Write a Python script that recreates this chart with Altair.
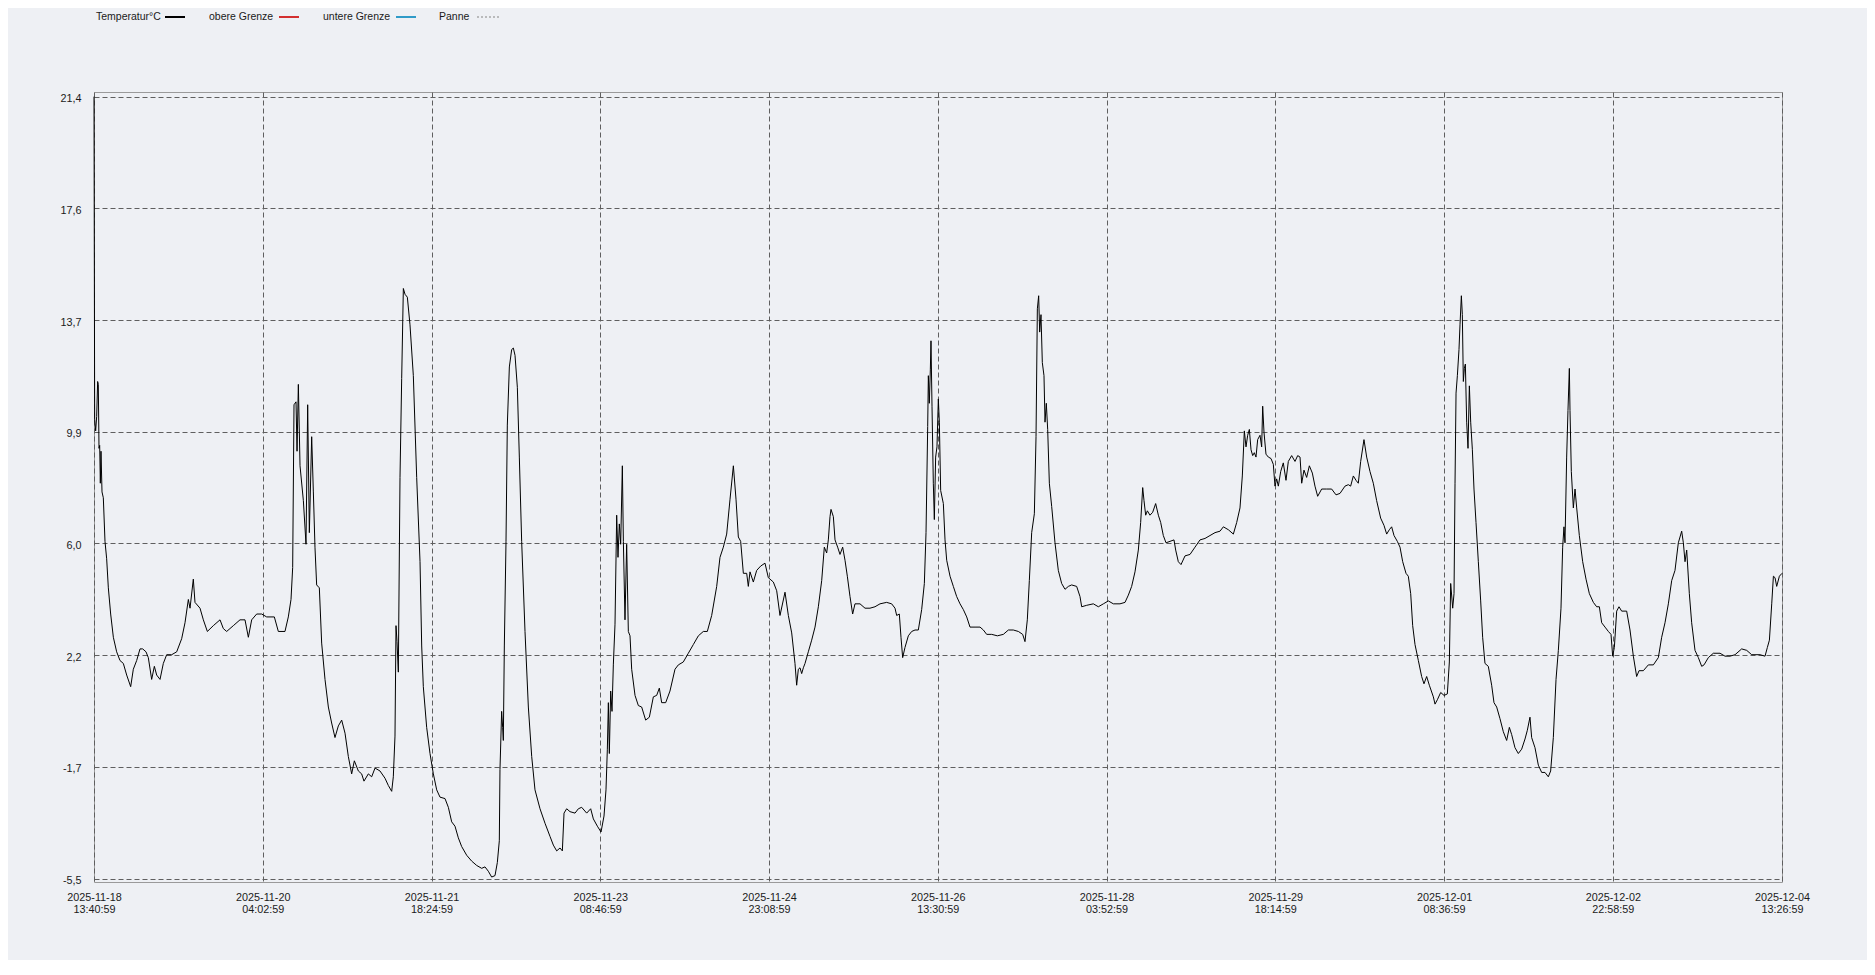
import altair as alt
import pandas as pd

# ---------------- data ----------------
start_time = "2025-11-18 13:40:59"
end_time = "2025-12-04 13:26:59"

hours_since_start = [
    0.00, 0.15, 0.38, 0.61, 0.83, 0.98, 1.14, 1.29, 1.44, 1.59, 1.82, 2.12, 2.50, 2.88, 3.26, 3.79,
    4.40, 5.15, 5.91, 6.67, 7.43, 8.34, 8.94, 9.70, 10.46, 11.07, 11.82, 12.35, 13.11, 13.72, 14.25,
    15.01, 15.76, 16.52, 17.66, 18.80, 19.93, 20.69, 21.45, 21.83, 22.58, 22.96, 24.10, 24.86, 25.77,
    27.13, 28.65, 29.40, 30.16, 31.68, 33.19, 34.33, 35.09, 35.85, 36.98, 38.12, 39.26, 41.00, 41.91,
    43.42, 44.18, 44.79, 45.17, 45.47, 45.93, 46.16, 46.46, 46.84, 47.60, 48.20, 48.58, 48.96, 49.49,
    49.87, 50.24, 50.62, 51.23, 51.76, 52.52, 53.28, 54.03, 54.79, 55.55, 56.31, 57.07, 57.82, 58.58,
    59.19, 60.10, 60.85, 61.38, 62.37, 63.13, 63.89, 65.02, 66.16, 66.92, 67.68, 68.05, 68.43, 68.66,
    68.89, 69.19, 69.57, 69.95, 70.33, 70.71, 71.24, 71.84, 72.60, 73.36, 74.12, 74.50, 74.87, 75.63,
    76.39, 77.15, 77.91, 78.66, 79.80, 80.56, 81.32, 82.07, 82.83, 83.59, 84.73, 85.86, 87.00, 88.14,
    88.89, 89.65, 90.41, 91.17, 91.70, 92.15, 92.30, 92.68, 92.91, 93.06, 93.29, 93.67, 93.97, 94.43,
    94.96, 95.34, 95.72, 96.25, 96.70, 97.23, 97.99, 98.75, 99.51, 100.26, 101.40, 102.54, 103.67,
    104.43, 105.19, 105.95, 106.48, 106.86, 107.46, 108.22, 109.36, 110.12, 110.87, 112.01, 112.92,
    113.53, 114.44, 115.27, 115.95, 116.40, 116.71, 116.94, 117.16, 117.47, 117.77, 118.07, 118.45,
    118.83, 119.13, 119.43, 119.74, 120.12, 120.35, 120.72, 121.10, 121.48, 121.86, 122.24, 123.00,
    123.76, 124.51, 125.42, 126.26, 127.17, 127.92, 128.53, 129.06, 129.97, 130.95, 132.09, 132.85,
    133.98, 135.12, 136.26, 137.40, 138.53, 139.44, 140.43, 141.57, 142.32, 143.08, 143.84, 144.60,
    145.36, 145.96, 146.49, 147.02, 147.63, 148.39, 148.76, 149.14, 149.90, 150.66, 151.57, 152.55,
    153.31, 154.45, 155.21, 155.96, 157.10, 157.86, 158.62, 159.37, 159.75, 160.13, 160.51, 160.89,
    161.27, 161.65, 162.40, 163.16, 163.92, 164.68, 165.44, 166.04, 166.57, 166.95, 167.33, 167.56,
    168.09, 168.47, 169.07, 169.60, 170.21, 170.74, 171.27, 171.88, 172.48, 173.01, 174.15, 175.29,
    176.42, 177.56, 178.70, 180.21, 181.35, 182.11, 182.49, 183.09, 183.47, 183.85, 184.38, 185.14,
    185.90, 186.66, 187.41, 188.17, 188.78, 189.16, 189.54, 189.69, 189.91, 190.14, 190.29, 190.52,
    190.82, 191.05, 191.35, 191.65, 191.96, 192.19, 192.49, 193.10, 193.48, 193.86, 194.62, 195.37,
    196.13, 196.89, 197.65, 198.41, 199.16, 200.30, 201.44, 202.20, 202.95, 204.09, 205.38, 206.74,
    207.88, 209.01, 210.15, 211.13, 211.66, 212.19, 212.65, 213.18, 213.79, 214.17, 214.47, 214.77,
    215.00, 215.30, 215.60, 215.98, 216.21, 216.51, 216.82, 217.20, 217.73, 218.48, 219.24, 220.00,
    220.76, 221.52, 222.27, 223.41, 224.17, 224.55, 225.69, 227.20, 228.34, 229.48, 230.61, 231.75,
    233.26, 234.40, 235.16, 235.91, 236.67, 237.43, 237.96, 238.42, 238.72, 239.10, 239.48, 240.08,
    240.69, 241.37, 241.98, 242.51, 243.11, 243.72, 244.63, 245.54, 245.92, 246.52, 247.13, 248.04,
    249.18, 250.31, 251.45, 252.59, 253.72, 254.86, 256.00, 256.76, 257.89, 259.03, 259.79, 260.54,
    261.07, 261.53, 261.91, 262.29, 262.67, 263.05, 263.43, 263.80, 264.18, 264.56, 265.09, 265.47,
    265.70, 266.00, 266.45, 266.98, 267.59, 268.12, 268.50, 268.88, 269.26, 269.79, 270.39, 271.00,
    271.53, 272.29, 273.05, 273.66, 274.19, 274.57, 275.09, 275.70, 276.31, 276.99, 277.59, 278.20,
    279.11, 280.25, 281.38, 282.37, 283.28, 284.41, 285.17, 285.70, 286.31, 286.92, 287.44, 287.98,
    288.73, 289.34, 290.10, 290.85, 291.61, 292.52, 293.28, 293.89, 294.49, 295.02, 295.56, 296.31,
    296.92, 297.53, 298.28, 298.81, 299.35, 299.80, 300.33, 301.09, 301.84, 302.37, 302.98, 303.59,
    304.50, 304.88, 305.41, 306.17, 306.93, 307.68, 308.14, 308.44, 308.90, 309.20, 309.43, 309.66,
    309.96, 310.33, 310.56, 310.87, 311.09, 311.32, 311.55, 311.78, 312.08, 312.38, 312.69, 312.99,
    313.37, 313.74, 314.20, 314.73, 315.26, 315.71, 316.24, 317.00, 317.76, 318.29, 318.90, 319.65,
    320.41, 321.17, 321.78, 322.31, 323.06, 323.82, 324.58, 325.34, 325.87, 326.47, 326.85, 327.61,
    328.37, 329.13, 329.88, 330.64, 331.17, 331.78, 332.39, 332.92, 333.52, 333.90, 334.20, 334.43,
    334.81, 335.11, 335.42, 335.57, 335.87, 336.33, 336.71, 337.09, 337.69, 338.45, 339.21, 339.97,
    340.88, 341.63, 342.24, 342.77, 343.53, 344.29, 344.89, 345.27, 345.65, 346.18, 346.71, 347.31,
    348.45, 349.21, 349.97, 350.72, 351.26, 352.24, 353.38, 354.52, 355.65, 356.41, 357.17, 357.93,
    358.69, 359.44, 360.20, 360.96, 361.34, 361.72, 362.10, 362.70, 363.23, 363.99, 364.75, 365.51,
    366.04, 367.02, 368.16, 369.68, 370.81, 371.95, 373.09, 374.60, 375.74, 376.88, 378.77, 379.91,
    380.44, 380.90, 381.43, 381.81, 382.18, 382.56, 383.17, 383.77,
]

temperature = [
    21.4, 10.3, 9.9, 10.4, 11.6, 11.5, 9.3, 9.4, 8.1, 9.2, 7.8, 7.6, 6.1, 5.5, 4.5, 3.6,
    2.8, 2.3, 2.0, 1.9, 1.5, 1.1, 1.7, 2.0, 2.4, 2.4, 2.3, 2.1, 1.35, 1.8, 1.5,
    1.35, 1.9, 2.2, 2.2, 2.3, 2.75, 3.3, 4.1, 3.8, 4.8, 4.0, 3.8, 3.4, 3.0,
    3.2, 3.4, 3.1, 3.0, 3.2, 3.4, 3.4, 2.8, 3.4, 3.6, 3.6, 3.5, 3.5, 3.0,
    3.0, 3.5, 4.1, 5.2, 10.8, 10.9, 9.2, 11.5, 8.7, 7.5, 6.0, 10.8, 6.4, 9.7,
    7.8, 5.9, 4.6, 4.5, 2.6, 1.35, 0.4, -0.15, -0.65, -0.25, -0.05, -0.5, -1.3, -1.9,
    -1.45, -1.8, -1.9, -2.15, -1.9, -2.0, -1.7, -1.8, -2.05, -2.3, -2.5, -2.0, -0.6, 3.2,
    2.65, 1.6, 8.3, 11.7, 14.8, 14.6, 14.5, 13.55, 11.8, 8.3, 5.4, 2.5, 1.1, -0.3,
    -1.2, -1.9, -2.45, -2.7, -2.75, -3.05, -3.55, -3.7, -4.1, -4.4, -4.7, -4.9, -5.05, -5.15,
    -5.1, -5.25, -5.45, -5.4, -4.95, -4.2, -1.75, 0.25, -0.3, -0.75, 2.5, 6.1, 10.1, 12.1,
    12.7, 12.75, 12.5, 11.4, 9.0, 6.1, 3.0, 0.4, -1.3, -2.45, -3.1, -3.6, -4.05,
    -4.35, -4.55, -4.45, -4.55, -3.25, -3.1, -3.2, -3.25, -3.1, -3.05, -3.25, -3.1,
    -3.45, -3.7, -3.9, -3.35, -2.45, -1.05, 0.55, -1.2, 0.95, 0.25, 1.85, 3.25,
    7.0, 5.55, 6.7, 6.0, 8.7, 6.1, 3.4, 6.0, 3.0, 2.85, 1.7, 0.8,
    0.45, 0.4, -0.05, 0.05, 0.75, 0.8, 1.05, 0.55, 0.55, 0.95, 1.7, 1.85,
    1.95, 2.25, 2.55, 2.85, 3.0, 3.0, 3.55, 4.55, 5.55, 5.9, 6.35, 7.55,
    8.7, 7.55, 6.25, 6.1, 5.0, 5.0, 4.55, 5.05, 4.7, 5.1, 5.25, 5.35,
    4.85, 4.7, 4.4, 3.55, 4.35, 3.55, 2.95, 1.9, 1.15, 1.7, 1.75, 1.55,
    1.75, 1.9, 2.3, 2.7, 3.15, 3.85, 4.75, 5.9, 5.7, 6.15, 6.95, 7.2,
    6.95, 6.15, 5.9, 5.65, 5.9, 5.45, 4.9, 4.2, 3.6, 3.95, 3.95, 3.8,
    3.8, 3.85, 3.95, 4.0, 3.95, 3.8, 3.55, 3.6, 2.8, 2.1, 2.45, 2.85,
    3.0, 3.05, 3.05, 3.75, 4.65, 6.4, 10.05, 11.8, 10.85, 12.0, 13.0, 10.75,
    8.1, 6.85, 9.0, 9.35, 11.0, 10.2, 7.85, 7.4, 6.15, 5.45, 4.9, 4.55,
    4.2, 3.95, 3.75, 3.5, 3.15, 3.15, 3.15, 3.05, 2.9, 2.9, 2.85, 2.9,
    3.05, 3.05, 3.0, 2.9, 2.65, 3.4, 4.75, 6.4, 7.05, 9.7, 14.1, 14.55,
    13.3, 13.9, 12.25, 11.8, 10.2, 10.85, 9.95, 8.1, 7.3, 6.05, 5.1, 4.65,
    4.45, 4.55, 4.6, 4.55, 4.2, 3.85, 3.9, 3.95, 3.85, 3.95, 4.05, 3.95,
    3.95, 4.0, 4.25, 4.55, 5.05, 5.8, 6.75, 7.95, 7.5, 7.0, 7.15, 7.0,
    7.1, 7.4, 7.0, 6.75, 6.3, 6.05, 6.1, 6.15, 5.8, 5.4, 5.3, 5.6,
    5.65, 5.9, 6.15, 6.2, 6.3, 6.4, 6.45, 6.6, 6.5, 6.35, 6.75, 7.25,
    8.35, 9.9, 9.35, 9.75, 9.95, 9.25, 9.05, 9.15, 9.0, 9.6, 9.75, 9.35,
    10.75, 9.85, 9.1, 9.0, 8.95, 8.75, 8.0, 8.25, 8.0, 8.5, 8.8, 8.2,
    8.85, 9.05, 8.85, 9.05, 9.0, 8.1, 8.55, 8.3, 8.7, 8.45, 8.0, 7.65,
    7.9, 7.9, 7.9, 7.7, 7.75, 8.0, 8.05, 8.0, 8.35, 8.2, 8.1, 8.85,
    9.6, 9.0, 8.5, 8.1, 7.5, 6.9, 6.65, 6.35, 6.5, 6.6, 6.3, 6.1,
    5.9, 5.4, 5.0, 4.9, 4.3, 3.2, 2.55, 2.0, 1.45, 1.2, 1.45, 1.15,
    0.75, 0.5, 0.65, 0.9, 0.8, 0.85, 1.95, 4.65, 3.8, 4.3, 8.1, 11.2,
    11.8, 12.7, 13.55, 14.55, 13.9, 11.6, 12.05, 12.2, 10.2, 9.3, 11.45, 10.2,
    9.25, 7.9, 6.75, 5.4, 4.05, 2.8, 1.9, 1.8, 1.15, 0.55, 0.4, 0.0,
    -0.45, -0.75, -0.3, -0.55, -1.0, -1.2, -1.05, -0.7, -0.4, 0.05, -0.65, -1.0,
    -1.6, -1.85, -1.85, -2.0, -1.8, -0.65, 1.35, 2.35, 3.8, 5.9, 6.6, 6.05,
    9.0, 10.6, 12.05, 10.6, 8.5, 7.25, 7.9, 7.25, 6.3, 5.4, 4.8, 4.3,
    4.0, 3.85, 3.85, 3.3, 3.15, 3.0, 2.9, 2.15, 2.45, 3.7, 3.85, 3.7,
    3.7, 3.05, 2.15, 1.45, 1.65, 1.65, 1.85, 1.85, 2.1, 2.8, 3.3, 3.95,
    4.75, 5.1, 6.05, 6.45, 6.05, 5.4, 5.8, 4.3, 3.3, 2.35, 2.1, 1.8,
    1.85, 2.1, 2.25, 2.25, 2.15, 2.15, 2.2, 2.4, 2.35, 2.2, 2.2, 2.15,
    2.45, 2.7, 3.95, 4.9, 4.85, 4.55, 4.9, 5.0,
]

x_tick_times = [
    "2025-11-18 13:40:59", "2025-11-20 04:02:59", "2025-11-21 18:24:59", "2025-11-23 08:46:59",
    "2025-11-24 23:08:59", "2025-11-26 13:30:59", "2025-11-28 03:52:59", "2025-11-29 18:14:59",
    "2025-12-01 08:36:59", "2025-12-02 22:58:59", "2025-12-04 13:26:59",
]
y_tick_values = [-5.5, -1.657, 2.186, 6.029, 9.871, 13.714, 17.557, 21.4]
y_domain = [-5.62, 21.56]

legend_labels = ["Temperatur°C", "obere Grenze", "untere Grenze", "Panne"]

# ---------------- build table ----------------
t0 = pd.Timestamp(start_time)
times = t0 + pd.to_timedelta(hours_since_start, unit="h")
df = pd.DataFrame({
    "time": times.strftime("%Y-%m-%dT%H:%M:%SZ"),
    "temp": temperature,
})


def ms(s):
    return int(pd.Timestamp(s, tz="UTC").value // 10**6)


x_values = [ms(s) for s in x_tick_times]
x_domain = [ms(start_time), ms(end_time)]

BG = "#eef0f4"
FONT = "Liberation Sans"
GRID = "#5f5f5f"

line = alt.Chart(df).mark_line(color="#000000", strokeWidth=1, interpolate="linear").encode(
    x=alt.X(
        "time:T",
        scale=alt.Scale(type="utc", domain=x_domain, nice=False),
        axis=alt.Axis(
            values=x_values,
            labelExpr="[utcFormat(datum.value, '%Y-%m-%d'), utcFormat(datum.value, '%H:%M:%S')]",
            title=None, grid=True, gridDash=[5, 3], gridColor=GRID, gridWidth=1, gridOpacity=1,
            ticks=False, domain=False, labelAngle=0, labelOverlap=False, labelFlush=False,
            labelBound=False, labelPadding=9, labelFontSize=10.8, labelLineHeight=12,
            labelColor="#1a1a1a", labelFont=FONT, labelAlign="center",
        ),
    ),
    y=alt.Y(
        "temp:Q",
        scale=alt.Scale(domain=y_domain, nice=False, zero=False),
        axis=alt.Axis(
            values=y_tick_values,
            labelExpr="replace(replace(format(datum.value, '.1f'), '.', ','), '\u2212', '-')",
            title=None, grid=True, gridDash=[5, 3], gridColor=GRID, gridWidth=1, gridOpacity=1,
            ticks=False, domain=False, labelOverlap=False, labelFlush=False, labelBound=False,
            labelPadding=13, labelFontSize=10.8, labelColor="#1a1a1a", labelFont=FONT,
            labelBaseline="middle", labelOffset=2,
        ),
    ),
)

# ---------------- legend row above the plot ----------------
one = pd.DataFrame({"k": [0]})
legend_text_x = [2, 115, 229, 345]
legend_line_x = [(71, 91), (185, 205), (302, 322), (383, 405)]
legend_colors = ["#000000", "#d32f2f", "#2f9bc8", "#a8a8a8"]
legend_dash = [None, None, None, [2, 2]]
LEG_Y = -75

layers = [line]
for lab, tx, (lx1, lx2), col, dash in zip(legend_labels, legend_text_x, legend_line_x, legend_colors, legend_dash):
    layers.append(
        alt.Chart(one).mark_text(align="left", baseline="middle", fontSize=10.5, font=FONT, color="#1a1a1a").encode(
            x=alt.value(tx), y=alt.value(LEG_Y), text=alt.value(lab)
        )
    )
    rule_kwargs = dict(color=col, strokeWidth=2)
    if dash:
        rule_kwargs["strokeDash"] = dash
        rule_kwargs["strokeWidth"] = 1.5
    layers.append(
        alt.Chart(one).mark_rule(**rule_kwargs).encode(
            x=alt.value(lx1), x2=alt.value(lx2), y=alt.value(LEG_Y)
        )
    )

chart = alt.layer(*layers).properties(
    width=1688,
    height=790,
    autosize=alt.AutoSizeParams(type="none"),
    padding={"left": 86, "top": 84, "right": 85, "bottom": 78},
    background=BG,
).configure_view(
    stroke="#9a9a9a", strokeWidth=1, fill=BG
)

chart.save("out.html", embed_options={"renderer": "svg", "actions": False})
